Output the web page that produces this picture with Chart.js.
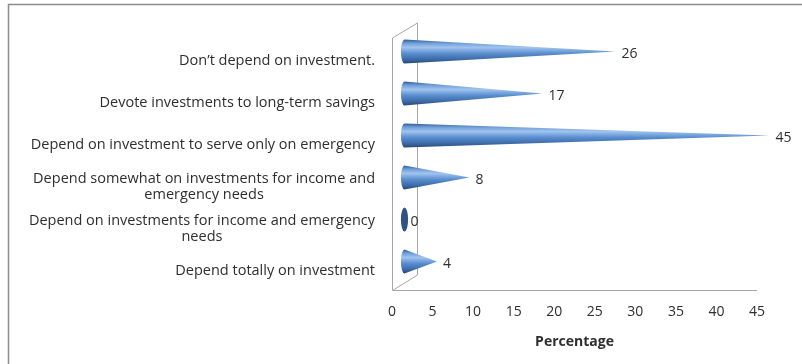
<!DOCTYPE html>
<html>
<head>
<meta charset="utf-8">
<script src="https://cdn.jsdelivr.net/npm/chart.js@4/dist/chart.umd.min.js"></script>
<style>
    html, body { margin: 0; padding: 0; background: #fff; }
    #wrap { width: 802px; height: 364px; position: relative; }
</style>
</head>
<body>
<div id="wrap"><canvas id="chartInvest"></canvas></div>
<script>
const categories = [
    ["Don\u2019t depend on investment."],
    ["Devote investments to long-term savings"],
    ["Depend on investment to serve only on emergency"],
    ["Depend somewhat on investments for income and", "emergency needs"],
    ["Depend on investments for income and emergency", "needs"],
    ["Depend totally on investment"]
];
const percentages = [26, 17, 45, 8, 0, 4];
const axisTitle = "Percentage";

const FONT = "'Open Sans', 'Noto Sans', sans-serif";
const TEXT = "#2e2e2e";
const FRAME = "#a6a6a6";
// depth of the 3d box in pixels (back wall offset)
const DEPTH_X = 25;
const DEPTH_Y = -15;

const conePlugin = {
    id: "cones",
    beforeDraw(chart) {
        const ctx = chart.ctx;
        const {left, right, top, bottom} = chart.chartArea;
        ctx.save();
        // outer chart border (cropped on right / bottom)
        ctx.strokeStyle = "#8c8c8c";
        ctx.lineWidth = 1.5;
        ctx.strokeRect(8.5, 4.5, 2000, 2000);

        ctx.strokeStyle = FRAME;
        ctx.lineWidth = 1;
        ctx.beginPath();
        // front left edge
        ctx.moveTo(left + 0.5, bottom);
        ctx.lineTo(left + 0.5, top);
        // top diagonal
        ctx.lineTo(left + DEPTH_X + 0.5, top + DEPTH_Y);
        // back wall edge
        ctx.lineTo(left + DEPTH_X + 0.5, bottom + DEPTH_Y);
        // floor diagonal
        ctx.lineTo(left + 0.5, bottom + 0.5);
        // front floor edge
        ctx.lineTo(right, bottom + 0.5);
        ctx.stroke();
        ctx.restore();
    },
    afterDatasetsDraw(chart) {
        const ctx = chart.ctx;
        const meta = chart.getDatasetMeta(0);
        const dx = DEPTH_X / 2;
        const dy = DEPTH_Y / 2;
        ctx.save();
        meta.data.forEach((bar, i) => {
            const r = bar.height / 2;
            const cy = bar.y + dy;
            const bx = bar.base + dx;
            const tx = bar.x + dx;
            const rx = r * 0.3;
            if (percentages[i] === 0) {
                ctx.fillStyle = "#2f5283";
                ctx.beginPath();
                ctx.ellipse(bx, cy, rx, r, 0, 0, Math.PI * 2);
                ctx.fill();
            } else {
                const g = ctx.createLinearGradient(0, cy - r, 0, cy + r);
                g.addColorStop(0, "#2f5b94");
                g.addColorStop(0.15, "#6f9dd8");
                g.addColorStop(0.33, "#a0c4ef");
                g.addColorStop(0.58, "#5a8ed0");
                g.addColorStop(0.85, "#3a67a3");
                g.addColorStop(1, "#274875");
                ctx.fillStyle = g;
                ctx.beginPath();
                ctx.moveTo(bx, cy - r);
                ctx.lineTo(tx, cy);
                ctx.lineTo(bx, cy + r);
                ctx.ellipse(bx, cy, rx, r, 0, Math.PI / 2, Math.PI * 1.5);
                ctx.closePath();
                ctx.fill();
            }
            ctx.fillStyle = TEXT;
            ctx.font = "14px " + FONT;
            ctx.textBaseline = "middle";
            ctx.textAlign = "left";
            ctx.fillText(String(percentages[i]), tx + 6, cy + 3);
        });
        ctx.restore();
    },
    afterDraw(chart) {
        const ctx = chart.ctx;
        const yScale = chart.scales.y;
        const edge = chart.chartArea.left - 17;
        const lineH = 16;
        ctx.save();
        ctx.fillStyle = TEXT;
        ctx.font = "14.5px " + FONT;
        ctx.textBaseline = "middle";
        ctx.textAlign = "center";
        categories.forEach((lines, i) => {
            const y = yScale.getPixelForTick(i) + 2;
            const w = Math.max(...lines.map(l => ctx.measureText(l).width));
            const cx = edge - w / 2;
            const y0 = y - (lines.length - 1) * lineH / 2;
            lines.forEach((l, k) => ctx.fillText(l, cx, y0 + k * lineH));
        });
        ctx.restore();
    }
};

const ctxInvest = document.getElementById("chartInvest").getContext("2d");
const investChart = new Chart(ctxInvest, {
    type: "bar",
    data: {
        labels: categories,
        datasets: [{
            data: percentages,
            backgroundColor: "rgba(0,0,0,0)",
            borderWidth: 0,
            categoryPercentage: 1,
            barPercentage: 0.57
        }]
    },
    options: {
        indexAxis: "y",
        responsive: true,
        maintainAspectRatio: false,
        animation: false,
        layout: {
            padding: {left: 392, right: 45, top: 38, bottom: 0}
        },
        scales: {
            x: {
                min: 0,
                max: 45,
                grid: {display: false, drawTicks: false},
                border: {display: false},
                ticks: {
                    stepSize: 5,
                    padding: 14,
                    color: TEXT,
                    font: {family: FONT, size: 14}
                },
                title: {
                    display: true,
                    text: axisTitle,
                    color: TEXT,
                    font: {family: FONT, size: 14, weight: "bold"},
                    padding: {top: 0, bottom: 14}
                },
                afterFit: (scale) => { scale.height = 74; }
            },
            y: {
                display: false
            }
        },
        plugins: {
            legend: {display: false},
            tooltip: {enabled: false}
        }
    },
    plugins: [conePlugin]
});
</script>
</body>
</html>
